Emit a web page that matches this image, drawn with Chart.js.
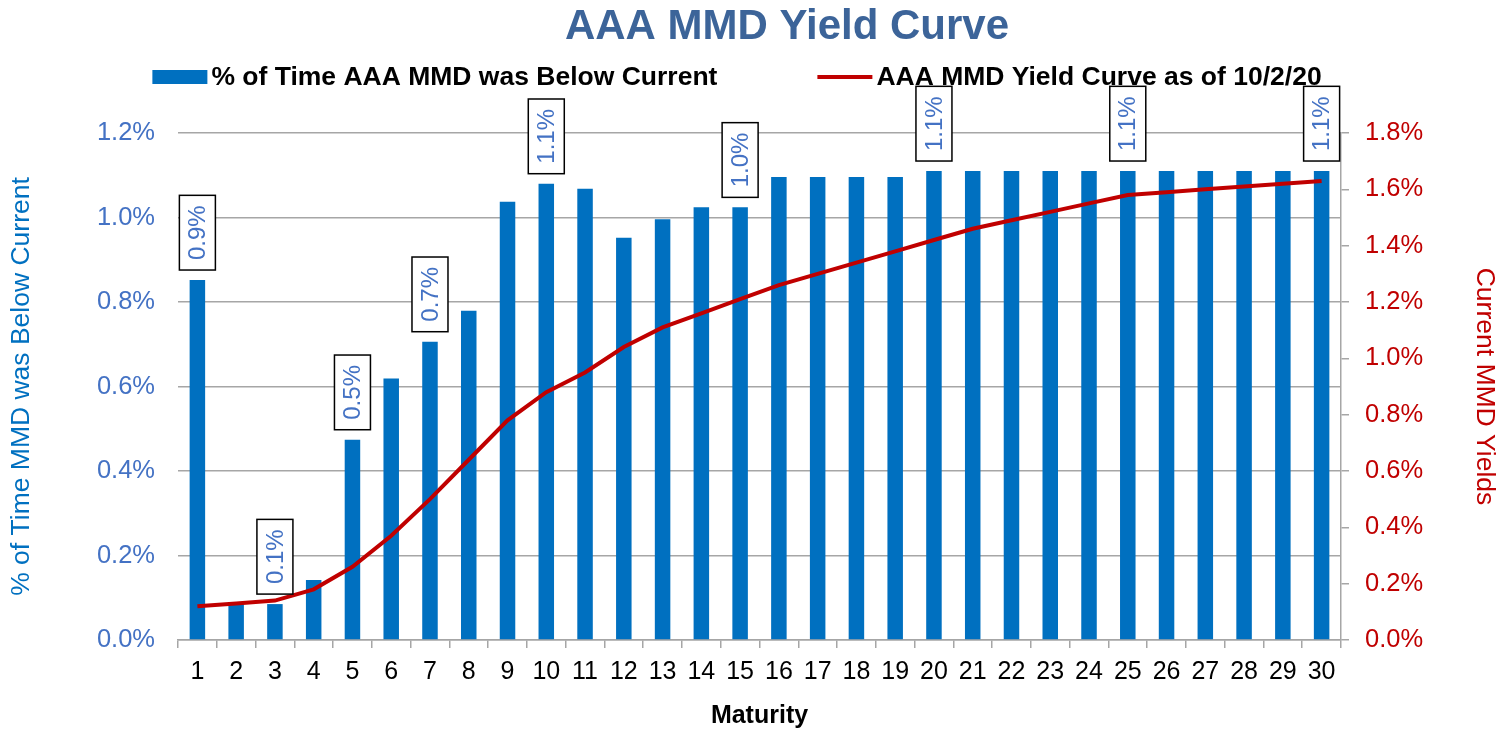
<!DOCTYPE html>
<html>
<head>
<meta charset="utf-8">
<title>AAA MMD Yield Curve</title>
<script src="https://cdn.jsdelivr.net/npm/chart.js@4.4.1/dist/chart.umd.min.js"></script>
<style>
    html, body { margin: 0; padding: 0; background: #ffffff; }
    #wrap { width: 1503px; height: 731px; }
</style>
</head>
<body>
<div id="wrap"><canvas id="yieldChart" width="1503" height="731"></canvas></div>
<script>
// datos
const maturities = ['1', '2', '3', '4', '5', '6', '7', '8', '9', '10',
    '11', '12', '13', '14', '15', '16', '17', '18', '19', '20',
    '21', '22', '23', '24', '25', '26', '27', '28', '29', '30'];

// % of Time AAA MMD was Below Current (eje izquierdo)
const pctBelow = [0.852, 0.085, 0.085, 0.142, 0.474, 0.619, 0.706, 0.779, 1.037, 1.080,
    1.068, 0.952, 0.996, 1.024, 1.024, 1.096, 1.096, 1.096, 1.096, 1.110,
    1.110, 1.110, 1.110, 1.110, 1.110, 1.110, 1.110, 1.110, 1.110, 1.110];

// AAA MMD Yield Curve as of 10/2/20 (eje derecho)
const mmdYields = [0.12, 0.13, 0.14, 0.18, 0.26, 0.37, 0.50, 0.64, 0.78, 0.88,
    0.95, 1.04, 1.11, 1.16, 1.21, 1.26, 1.30, 1.34, 1.38, 1.42,
    1.46, 1.49, 1.52, 1.55, 1.58, 1.59, 1.60, 1.61, 1.62, 1.63];

// vencimientos con etiqueta
const labeledMaturities = ['1', '3', '5', '7', '10', '15', '20', '25', '30'];

const leftTicks = [0, 0.2, 0.4, 0.6, 0.8, 1.0, 1.2];
const rightTicks = [0, 0.2, 0.4, 0.6, 0.8, 1.0, 1.2, 1.4, 1.6, 1.8];

const FONT = "'Liberation Sans', Arial, sans-serif";
const BLUE = '#0070C0';
const TICK_BLUE = '#4472C4';
const RED = '#C00000';
const GRID = '#A6A6A6';

// titulo y leyenda dibujados a mano
const headerPlugin = {
    id: 'header',
    afterDraw(chart) {
        const ctx = chart.ctx;
        ctx.save();
        ctx.fillStyle = '#3C6499';
        ctx.font = 'bold 42px ' + FONT;
        ctx.textAlign = 'center';
        ctx.textBaseline = 'middle';
        ctx.fillText('AAA MMD Yield Curve', 787, 27);

        const items = [
            { text: chart.data.datasets[0].label, kind: 'box' },
            { text: chart.data.datasets[1].label, kind: 'line' }
        ];
        ctx.font = 'bold 26.5px ' + FONT;
        const swatch = 55, gap = 4, itemGap = 100;
        let total = 0;
        items.forEach((it, i) => {
            it.w = ctx.measureText(it.text).width;
            total += swatch + gap + it.w + (i > 0 ? itemGap : 0);
        });
        let x = 737 - total / 2;
        const y = 77;
        ctx.textAlign = 'left';
        items.forEach((it, i) => {
            if (i > 0) x += itemGap;
            if (it.kind === 'box') {
                ctx.fillStyle = BLUE;
                ctx.fillRect(x, y - 7, swatch, 14);
            } else {
                ctx.strokeStyle = RED;
                ctx.lineWidth = 4;
                ctx.beginPath();
                ctx.moveTo(x, y);
                ctx.lineTo(x + swatch, y);
                ctx.stroke();
            }
            x += swatch + gap;
            ctx.fillStyle = '#000000';
            ctx.fillText(it.text, x, y + 1);
            x += it.w;
        });
        ctx.restore();
    }
};

// etiquetas giradas con recuadro encima de algunas barras
const boxLabelPlugin = {
    id: 'boxLabels',
    afterDatasetsDraw(chart) {
        const ctx = chart.ctx;
        const meta = chart.getDatasetMeta(0);
        const values = chart.data.datasets[0].data;
        ctx.save();
        ctx.font = '24px ' + FONT;
        chart.data.labels.forEach((lab, i) => {
            if (!labeledMaturities.includes(lab)) return;
            const bar = meta.data[i];
            const text = values[i].toFixed(1) + '%';
            const tw = ctx.measureText(text).width;
            const bw = 36;
            const bh = tw + 20;
            const bottom = bar.y - 10;
            const left = bar.x - bw / 2;
            ctx.fillStyle = '#ffffff';
            ctx.fillRect(left, bottom - bh, bw, bh);
            ctx.strokeStyle = '#000000';
            ctx.lineWidth = 1.5;
            ctx.strokeRect(left, bottom - bh, bw, bh);
            ctx.save();
            ctx.translate(bar.x + 1, bottom - bh / 2);
            ctx.rotate(-Math.PI / 2);
            ctx.fillStyle = TICK_BLUE;
            ctx.textAlign = 'center';
            ctx.textBaseline = 'middle';
            ctx.fillText(text, 0, 0);
            ctx.restore();
        });
        ctx.restore();
    }
};

const ctx = document.getElementById('yieldChart');

new Chart(ctx, {
    type: 'bar',
    data: {
        labels: maturities,
        datasets: [{
            type: 'bar',
            label: '% of Time AAA MMD was Below Current',
            data: pctBelow,
            yAxisID: 'y',
            backgroundColor: BLUE,
            borderWidth: 0,
            categoryPercentage: 1,
            barPercentage: 0.4,
            order: 1
        }, {
            type: 'line',
            label: 'AAA MMD Yield Curve as of 10/2/20',
            data: mmdYields,
            yAxisID: 'y2',
            borderColor: RED,
            backgroundColor: RED,
            borderWidth: 4,
            pointRadius: 0,
            tension: 0,
            order: 0
        }]
    },
    options: {
        responsive: false,
        animation: false,
        devicePixelRatio: 1,
        layout: {
            padding: { top: 133, left: 0, right: 0, bottom: 0 }
        },
        plugins: {
            legend: { display: false },
            title: { display: false },
            tooltip: { enabled: false }
        },
        scales: {
            x: {
                offset: true,
                grid: {
                    offset: true,
                    drawOnChartArea: false,
                    drawTicks: true,
                    tickLength: 8,
                    color: GRID,
                    lineWidth: 1.5
                },
                border: { display: true, color: GRID, width: 1.5 },
                ticks: {
                    color: '#000000',
                    font: { family: FONT, size: 25 },
                    padding: 9,
                    maxRotation: 0,
                    autoSkip: false
                },
                title: {
                    display: true,
                    text: 'Maturity',
                    color: '#000000',
                    font: { family: FONT, size: 25, weight: 'bold' },
                    padding: { top: 4, bottom: 0 }
                },
                afterFit(scale) { scale.height = 91; }
            },
            y: {
                position: 'left',
                min: 0,
                max: 1.2,
                afterBuildTicks(scale) {
                    scale.ticks = leftTicks.map(v => ({ value: v }));
                },
                grid: {
                    color: GRID,
                    lineWidth: 1.5,
                    drawTicks: false
                },
                border: { display: false },
                ticks: {
                    color: TICK_BLUE,
                    font: { family: FONT, size: 25.5 },
                    padding: 23,
                    callback: v => v.toFixed(1) + '%'
                },
                title: {
                    display: true,
                    text: '% of Time MMD was Below Current',
                    color: BLUE,
                    font: { family: FONT, size: 26.5 },
                    padding: { top: 6, bottom: 0 }
                },
                afterFit(scale) { scale.width = 178; }
            },
            y2: {
                position: 'right',
                min: 0,
                max: 1.8,
                afterBuildTicks(scale) {
                    scale.ticks = rightTicks.map(v => ({ value: v }));
                },
                grid: {
                    drawOnChartArea: false,
                    drawTicks: true,
                    tickLength: 8,
                    color: GRID,
                    lineWidth: 1.5
                },
                border: { display: true, color: GRID, width: 1.5 },
                ticks: {
                    color: RED,
                    font: { family: FONT, size: 25.5 },
                    padding: 16,
                    callback: v => v.toFixed(1) + '%'
                },
                title: {
                    display: true,
                    text: 'Current MMD Yields',
                    color: RED,
                    font: { family: FONT, size: 26.5 },
                    padding: { top: 3, bottom: 0 }
                },
                afterFit(scale) { scale.width = 162; }
            }
        }
    },
    plugins: [headerPlugin, boxLabelPlugin]
});
</script>
</body>
</html>
